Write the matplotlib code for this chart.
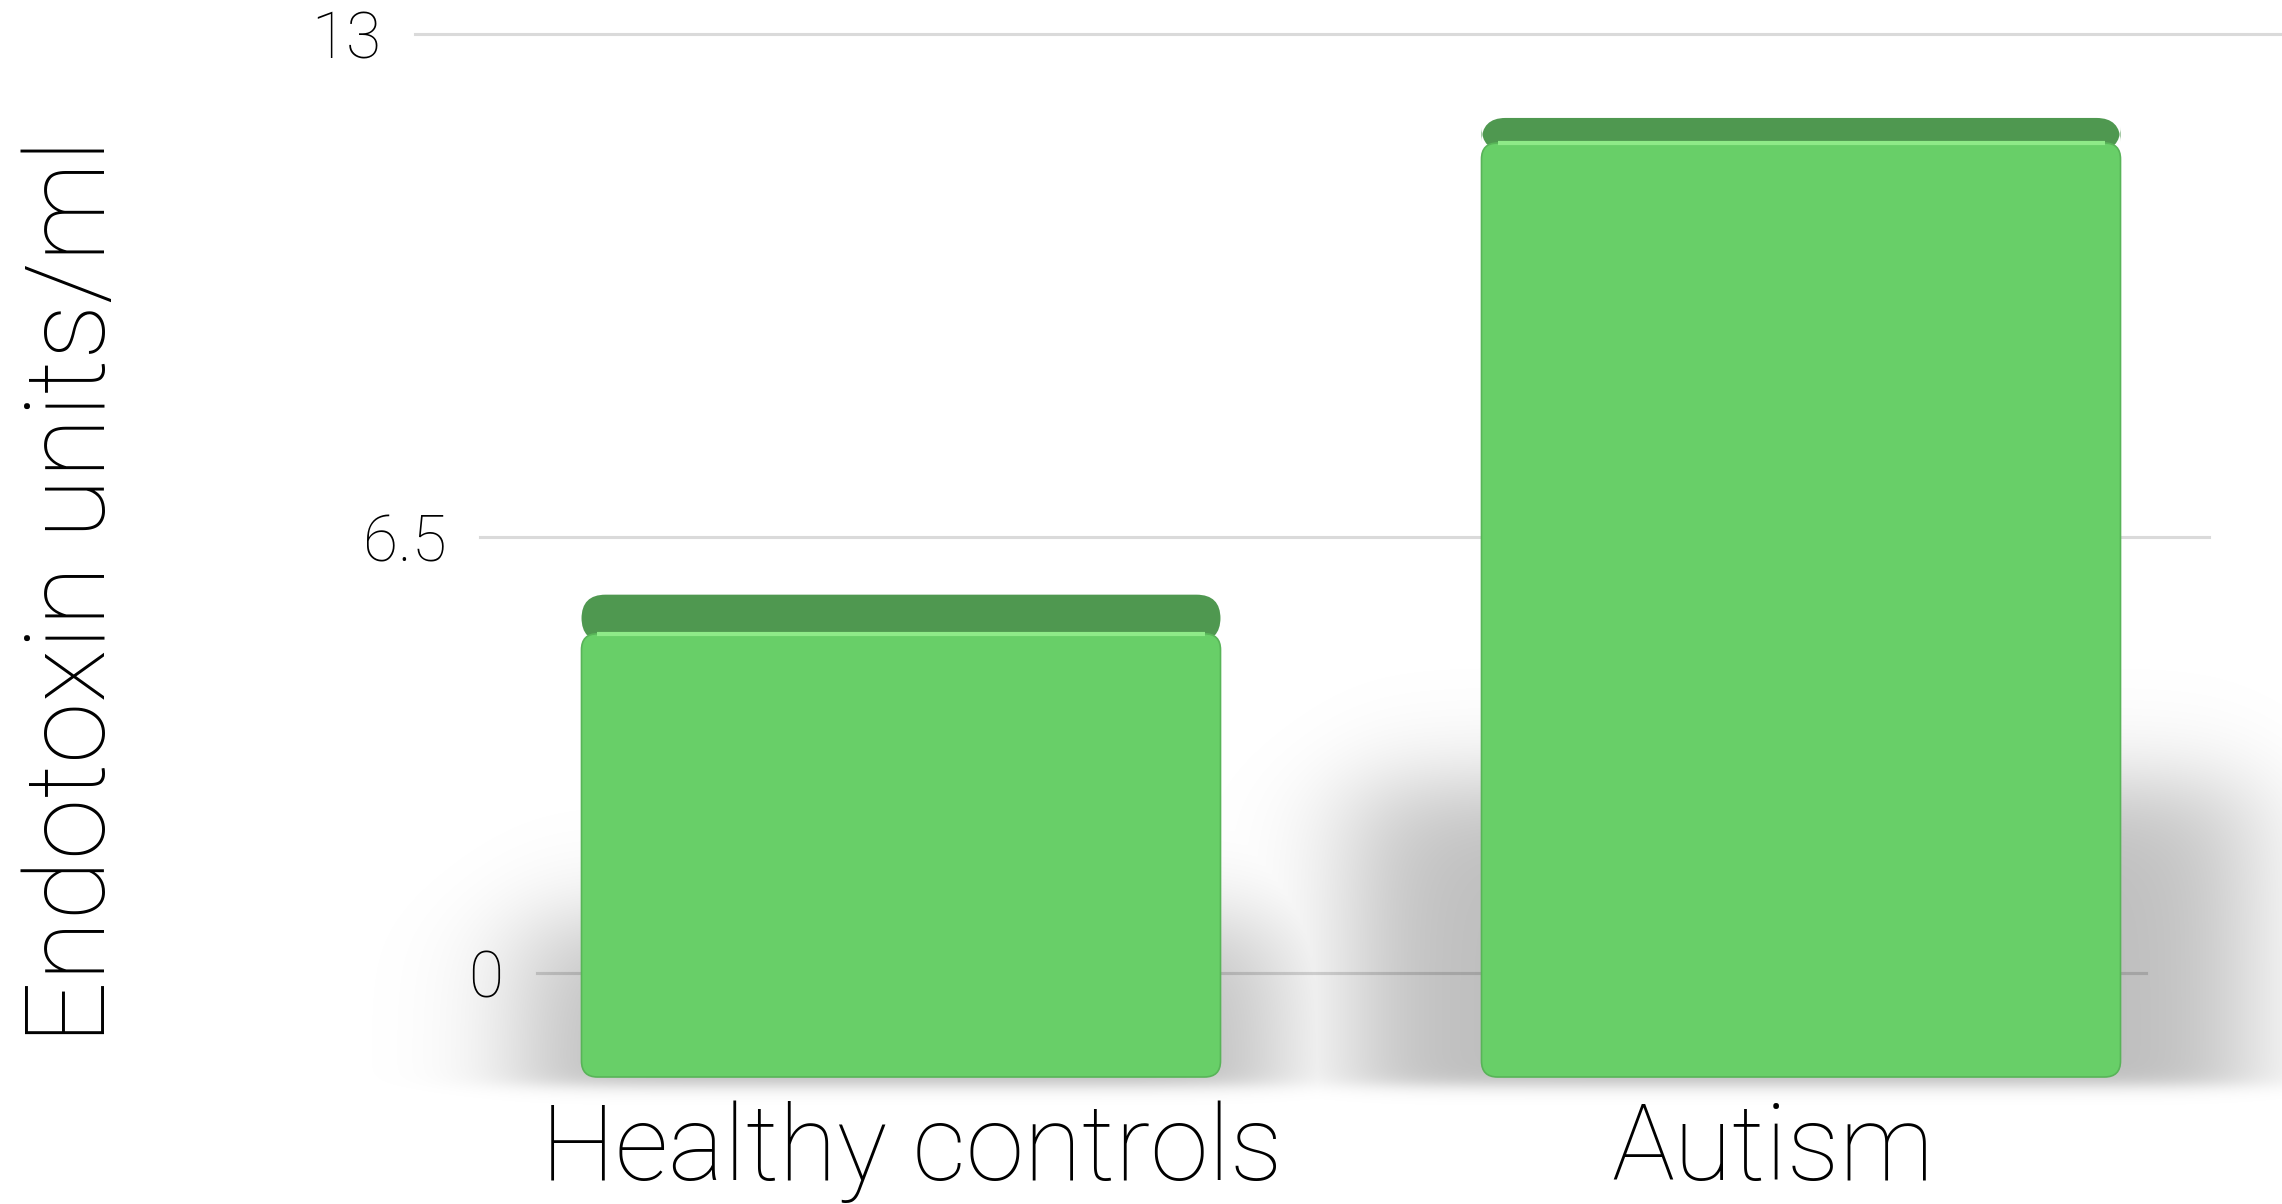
import numpy as np
import matplotlib
matplotlib.use("Agg")
import matplotlib.pyplot as plt
from matplotlib.patches import FancyBboxPatch
from matplotlib.transforms import ScaledTranslation

# ---- data ----
categories = ["Healthy controls", "Autism"]
values = [5.6, 11.8]
y_ticks = [0, 6.5, 13]
y_tick_labels = ["0", "6.5", "13"]
y_label = "Endotoxin units/ml"

# ---- style / layout ----
W, H, DPI = 2282, 1204, 100
plt.rcParams['font.family'] = ['Roboto', 'DejaVu Sans']
FRONT = '#68CF68'
TOP = '#4F9850'
HILITE = '#8EEA88'
GRID = '#DADADA'

fig = plt.figure(figsize=(W / DPI, H / DPI), dpi=DPI)
fig.patch.set_facecolor('white')

# back wall with perspective-spaced grid (projective scale)
c = 0.010248
def fwd(v):
    v = np.asarray(v, dtype=float)
    return v / (1 - c * v)
def inv(u):
    u = np.asarray(u, dtype=float)
    return u / (1 + c * u)

wall = fig.add_axes([0, 0, 1, 1])
wall.set_yscale('function', functions=(fwd, inv))
wall.set_ylim(-3.8345, 13.406)
wall.set_xlim(0, 1)
for s in wall.spines.values():
    s.set_visible(False)
wall.set_xticks([])
wall.set_yticks(y_ticks, y_tick_labels)
wall.tick_params(axis='y', length=0, pad=0, labelsize=46)
wall.patch.set_visible(False)
for t in wall.get_yticklabels():
    t.set_fontweight('light')

for tick, v in zip(wall.yaxis.get_major_ticks(), y_ticks):
    y_px = H - wall.transData.transform((0, v))[1]
    x0 = 415 + 0.13 * (y_px - 34)
    x1 = W - 0.145 * (y_px - 34)
    wall.axhline(v, xmin=x0 / W, xmax=min(x1 / W, 1.0), color=GRID, lw=2.2, zorder=0)
    lab = tick.label1
    lab.set_transform(lab.get_transform() + ScaledTranslation((x0 - 34) / DPI, 0, fig.dpi_scale_trans))

# front plane with bars
bottom_px = 1085
zero_px = 1077
ppu = 79.15
spacing = 900.0
xc0 = 901.0
front = fig.add_axes([0, (H - bottom_px) / H, 1, bottom_px / H])
front.set_autoscale_on(False)
xlim = (-xc0 / spacing, (W - xc0) / spacing)
ylim = (-(bottom_px - zero_px) / ppu, zero_px / ppu)
front.set_xlim(*xlim)
front.set_ylim(*ylim)
front.patch.set_visible(False)
for s in front.spines.values():
    s.set_visible(False)
front.set_yticks([])

x = np.arange(len(categories))
bar_w = 0.71

# soft floor shadow
xs = np.linspace(xlim[0], xlim[1], 1000)
ys = np.linspace(-0.8, 6.0, 340)
X, Y = np.meshgrid(xs, ys)
def sig(z):
    return 1.0 / (1.0 + np.exp(-z))
alpha = np.zeros_like(X)
for xi, v in zip(x, values):
    spread = 0.012 * v
    left = xi - bar_w / 2 - spread
    right = xi + bar_w / 2 + spread
    top = 0.28 * v + 0.4
    a = (sig((X - left) / 0.04) * sig((right - X) / 0.04)
         * sig((top - Y) / 0.35) * sig((Y + 0.12) / 0.06))
    alpha = np.maximum(alpha, a)
img = np.zeros(X.shape + (4,))
img[..., 3] = alpha * 0.26
front.imshow(img, extent=(xs[0], xs[-1], ys[0], ys[-1]), origin='lower',
             aspect='auto', zorder=1, interpolation='bilinear', clip_on=False)
front.set_xlim(*xlim)
front.set_ylim(*ylim)

bars = front.bar(x, values, width=bar_w, color=FRONT, zorder=3)
asp = spacing / ppu
eye = 22.9  # perspective: visible top-face depth shrinks for taller bars
for rect in bars:
    bx, by, bw, bh = rect.get_x(), rect.get_y(), rect.get_width(), rect.get_height()
    rect.set_visible(False)
    top_t = 2.26 * (eye - bh) / ppu
    topface = FancyBboxPatch((bx, by + bh - 0.1), bw, top_t + 0.1,
                             boxstyle=f"round,pad=0,rounding_size={24 / spacing}",
                             mutation_aspect=asp, facecolor=TOP, edgecolor='none',
                             zorder=3, clip_on=False)
    front.add_patch(topface)
    face = FancyBboxPatch((bx, by), bw, bh,
                          boxstyle=f"round,pad=0,rounding_size={16 / spacing}",
                          mutation_aspect=asp, facecolor=FRONT, edgecolor='#58B458',
                          lw=1.2, zorder=4, clip_on=False)
    front.add_patch(face)
    front.hlines(by + bh, bx + 16 / spacing, bx + bw - 16 / spacing, color=HILITE,
                 lw=3, zorder=5, clip_on=False)

front.set_xticks(x, categories)
front.tick_params(axis='x', length=0, pad=11, labelsize=76)
label_shift_px = [11, -28]
for t, dx in zip(front.get_xticklabels(), label_shift_px):
    t.set_fontweight('light')
    t.set_transform(t.get_transform() + ScaledTranslation(dx / DPI, 0, fig.dpi_scale_trans))

fig.text(75 / W, 1 - 591 / H, y_label, rotation=90, ha='center', va='center',
         fontsize=80, fontweight='light')

fig.savefig('out.png', dpi=DPI)
